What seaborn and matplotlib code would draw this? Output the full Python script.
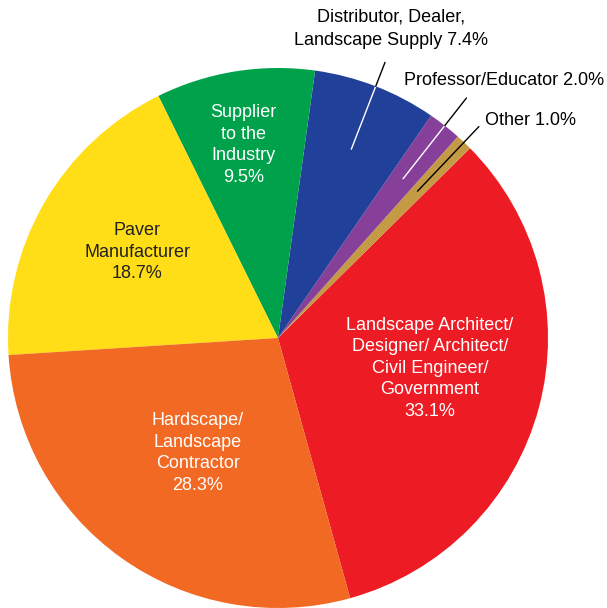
"""
Pie chart of respondent categories, redrawn with seaborn/matplotlib.
Output: out.png (607x608)
"""
import numpy as np
import matplotlib.pyplot as plt
import seaborn as sns

CATEGORIES = [
    "Landscape Architect/\nDesigner/ Architect/\nCivil Engineer/\nGovernment",
    "Other",
    "Professor/Educator",
    "Distributor, Dealer,\nLandscape Supply",
    "Supplier\nto the\nIndustry",
    "Paver\nManufacturer",
    "Hardscape/\nLandscape\nContractor",
]
SHARES = [33.1, 1.0, 2.0, 7.4, 9.5, 18.7, 28.3]

COLORS = ["#ED1C24", "#C49A45", "#86409A", "#21409A", "#00A14B", "#FFDD17", "#F26924"]
INSIDE = [True, False, False, False, True, True, True]
TEXT_COLORS = ["white", "black", "black", "black", "white", "#222222", "white"]
LEADER_IN = {1: "black", 2: "white", 3: "white"}
# inside label placement: radius and angle shift from the wedge middle
LABEL_R = [0.574, 0, 0, 0, 0.727, 0.61, 0.52]
LABEL_SHIFT = [3.7, 0, 0, 0, 1.0, -1.4, 0.5]
# outside labels: anchor point (data units) and alignment
OUT_POS = {1: (0.765, 0.805, "left"), 2: (0.465, 0.955, "left"), 3: (0.42, 1.146, "center")}
LEADER_END = {1: 1.08, 2: 1.13, 3: 1.095}

START = -74.5


def main():
    sns.set_theme(style="white")
    plt.rcParams["font.family"] = ["Liberation Sans", "DejaVu Sans"]

    fig = plt.figure(figsize=(6.07, 6.08), dpi=100)
    ax = fig.add_axes([0, 0, 1, 1])
    wedges, _ = ax.pie(SHARES, colors=COLORS, startangle=START, counterclock=True,
                       wedgeprops={"linewidth": 0})
    ax.set_xlim(-278 / 270, 329 / 270)
    ax.set_ylim(-1.0, 338 / 270)
    ax.set_aspect("equal")
    ax.axis("off")

    for i, w in enumerate(wedges):
        mid = np.deg2rad((w.theta1 + w.theta2) / 2)
        pct = f"{SHARES[i]:.1f}%"
        if INSIDE[i]:
            a = mid + np.deg2rad(LABEL_SHIFT[i])
            r = LABEL_R[i]
            ax.text(r * np.cos(a), r * np.sin(a), f"{CATEGORIES[i]}\n{pct}",
                    ha="center", va="center", color=TEXT_COLORS[i],
                    fontsize=13, linespacing=1.35)
        else:
            # leader line: light inside the pie, black outside
            c, s = np.cos(mid), np.sin(mid)
            ax.plot([0.75 * c, 1.0 * c], [0.75 * s, 1.0 * s], color=LEADER_IN[i], lw=1.0)
            ax.plot([1.0 * c, LEADER_END[i] * c], [1.0 * s, LEADER_END[i] * s],
                    color="black", lw=1.0)
            x, y, ha = OUT_POS[i]
            ax.text(x, y, f"{CATEGORIES[i]} {pct}", ha=ha, va="center",
                    color=TEXT_COLORS[i], fontsize=13, linespacing=1.45)

    fig.savefig("out.png", dpi=100)


if __name__ == "__main__":
    main()
